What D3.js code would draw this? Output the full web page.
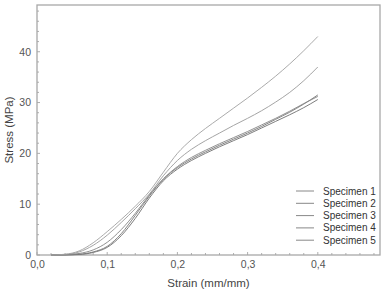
<!DOCTYPE html>
<html>
<head>
<meta charset="utf-8">
<script src="https://cdn.jsdelivr.net/npm/d3@7/dist/d3.min.js"></script>
<style>
  body { margin: 0; background: #fff; }
  text { font-family: "Liberation Sans", Arial, sans-serif; }
</style>
</head>
<body>
<div id="chart"></div>
<script>
//data
var strain = [0.02, 0.04, 0.06, 0.08, 0.10, 0.12, 0.14, 0.16, 0.18, 0.20, 0.22,
              0.24, 0.26, 0.28, 0.30, 0.32, 0.34, 0.36, 0.38, 0.40];

var specimen1 = [0, 0.02, 0.1, 0.5, 1.5, 3.8, 7.2, 11.2, 14.6, 16.9, 18.6,
                 20.0, 21.3, 22.5, 23.7, 25.0, 26.3, 27.6, 29.0, 30.6];
var specimen2 = [0, 0.03, 0.15, 0.6, 1.7, 4.2, 7.8, 11.6, 14.9, 17.2, 18.9,
                 20.3, 21.6, 22.8, 24.0, 25.3, 26.7, 28.1, 29.7, 31.5];
var specimen3 = [0, 0.1, 0.6, 1.9, 3.9, 6.4, 9.1, 12.0, 15.6, 18.6, 20.8,
                 22.5, 24.0, 25.5, 26.9, 28.4, 30.1, 32.0, 34.3, 37.0];
var specimen4 = [0, 0.05, 0.3, 1.0, 2.5, 5.0, 8.2, 11.8, 15.0, 17.4, 19.2,
                 20.6, 21.9, 23.1, 24.3, 25.6, 26.9, 28.3, 29.8, 31.2];
var specimen5 = [0, 0.15, 0.8, 2.4, 4.6, 7.0, 9.6, 12.5, 16.3, 20.0, 22.7,
                 24.9, 26.9, 28.9, 30.9, 33.0, 35.2, 37.6, 40.2, 43.0];

var seriesNames = ["Specimen 1", "Specimen 2", "Specimen 3", "Specimen 4", "Specimen 5"];
var seriesValues = [specimen1, specimen2, specimen3, specimen4, specimen5];
var lineColors = ["#6e6e6e", "#777", "#9a9a9a", "#858585", "#a0a0a0"];

var xTicks = [0, 0.1, 0.2, 0.3, 0.4];
var yTicks = [0, 10, 20, 30, 40];

//svg size
var svgWidth = 382;
var svgHeight = 290;

var margin = { top: 5, right: 2, bottom: 35, left: 37 };
var width = svgWidth - margin.left - margin.right;
var height = svgHeight - margin.top - margin.bottom;

var svg = d3.select("#chart")
  .append("svg")
  .attr("width", svgWidth)
  .attr("height", svgHeight);

var chartGroup = svg.append("g")
  .attr("transform", `translate(${margin.left}, ${margin.top})`);

//scales
var xScale = d3.scaleLinear().domain([0, 0.4886]).range([0, width]);
var yScale = d3.scaleLinear().domain([0, 49.2]).range([height, 0]);

//minor ticks, pointing inside
var xMinor = d3.range(0, 0.489, 0.02);
var yMinor = d3.range(0, 49.1, 2);

var bottomAxis = d3.axisBottom(xScale)
  .tickValues(xTicks)
  .tickSize(0)
  .tickPadding(6)
  .tickFormat(d => d3.format(".1f")(d).replace(".", ","));

var leftAxis = d3.axisLeft(yScale)
  .tickValues(yTicks)
  .tickSize(0)
  .tickPadding(6)
  .tickFormat(d3.format("d"));

var xAxis = chartGroup.append("g")
  .attr("transform", `translate(0, ${height})`)
  .call(bottomAxis);

var yAxis = chartGroup.append("g")
  .call(leftAxis);

[xAxis, yAxis].forEach(function(ax) {
  ax.select(".domain").remove();
  ax.selectAll("text")
    .attr("fill", "#555")
    .attr("font-size", "10.5px");
});

//tick marks
chartGroup.selectAll(".xminor")
  .data(xMinor)
  .enter()
  .append("line")
  .attr("x1", d => xScale(d))
  .attr("x2", d => xScale(d))
  .attr("y1", height)
  .attr("y2", (d, i) => height - (i % 5 === 0 ? 3 : 2))
  .attr("stroke", "#999")
  .attr("stroke-width", 0.8);

chartGroup.selectAll(".yminor")
  .data(yMinor)
  .enter()
  .append("line")
  .attr("y1", d => yScale(d))
  .attr("y2", d => yScale(d))
  .attr("x1", 0)
  .attr("x2", (d, i) => (i % 5 === 0 ? 3 : 2))
  .attr("stroke", "#999")
  .attr("stroke-width", 0.8);

//frame
chartGroup.append("rect")
  .attr("x", 0)
  .attr("y", 0)
  .attr("width", width)
  .attr("height", height)
  .attr("fill", "none")
  .attr("stroke", "#a8a8a8")
  .attr("stroke-width", 1.3);

//curves
var line = d3.line()
  .x((d, i) => xScale(strain[i]))
  .y(d => yScale(d))
  .curve(d3.curveMonotoneX);

chartGroup.selectAll(".curve")
  .data(seriesValues)
  .enter()
  .append("path")
  .attr("d", d => line(d))
  .attr("fill", "none")
  .attr("stroke", (d, i) => lineColors[i])
  .attr("stroke-width", 0.9);

//legend
var legend = chartGroup.append("g")
  .attr("transform", `translate(${296 - margin.left}, ${191 - margin.top})`);

seriesNames.forEach(function(name, i) {
  legend.append("line")
    .attr("x1", 0)
    .attr("x2", 18)
    .attr("y1", i * 12.3)
    .attr("y2", i * 12.3)
    .attr("stroke", "#888")
    .attr("stroke-width", 1);
  legend.append("text")
    .attr("x", 27)
    .attr("y", i * 12.3)
    .attr("dy", "0.35em")
    .attr("font-size", "10px")
    .attr("fill", "#333")
    .text(name);
});

//axis labels
svg.append("text")
  .attr("x", margin.left + width / 2)
  .attr("y", 283)
  .attr("text-anchor", "middle")
  .attr("dy", "0.35em")
  .attr("font-size", "11.5px")
  .attr("fill", "#444")
  .text("Strain (mm/mm)");

svg.append("text")
  .attr("transform", `translate(9, ${margin.top + height / 2}) rotate(-90)`)
  .attr("text-anchor", "middle")
  .attr("dy", "0.35em")
  .attr("font-size", "11.5px")
  .attr("fill", "#444")
  .text("Stress (MPa)");
</script>
</body>
</html>
